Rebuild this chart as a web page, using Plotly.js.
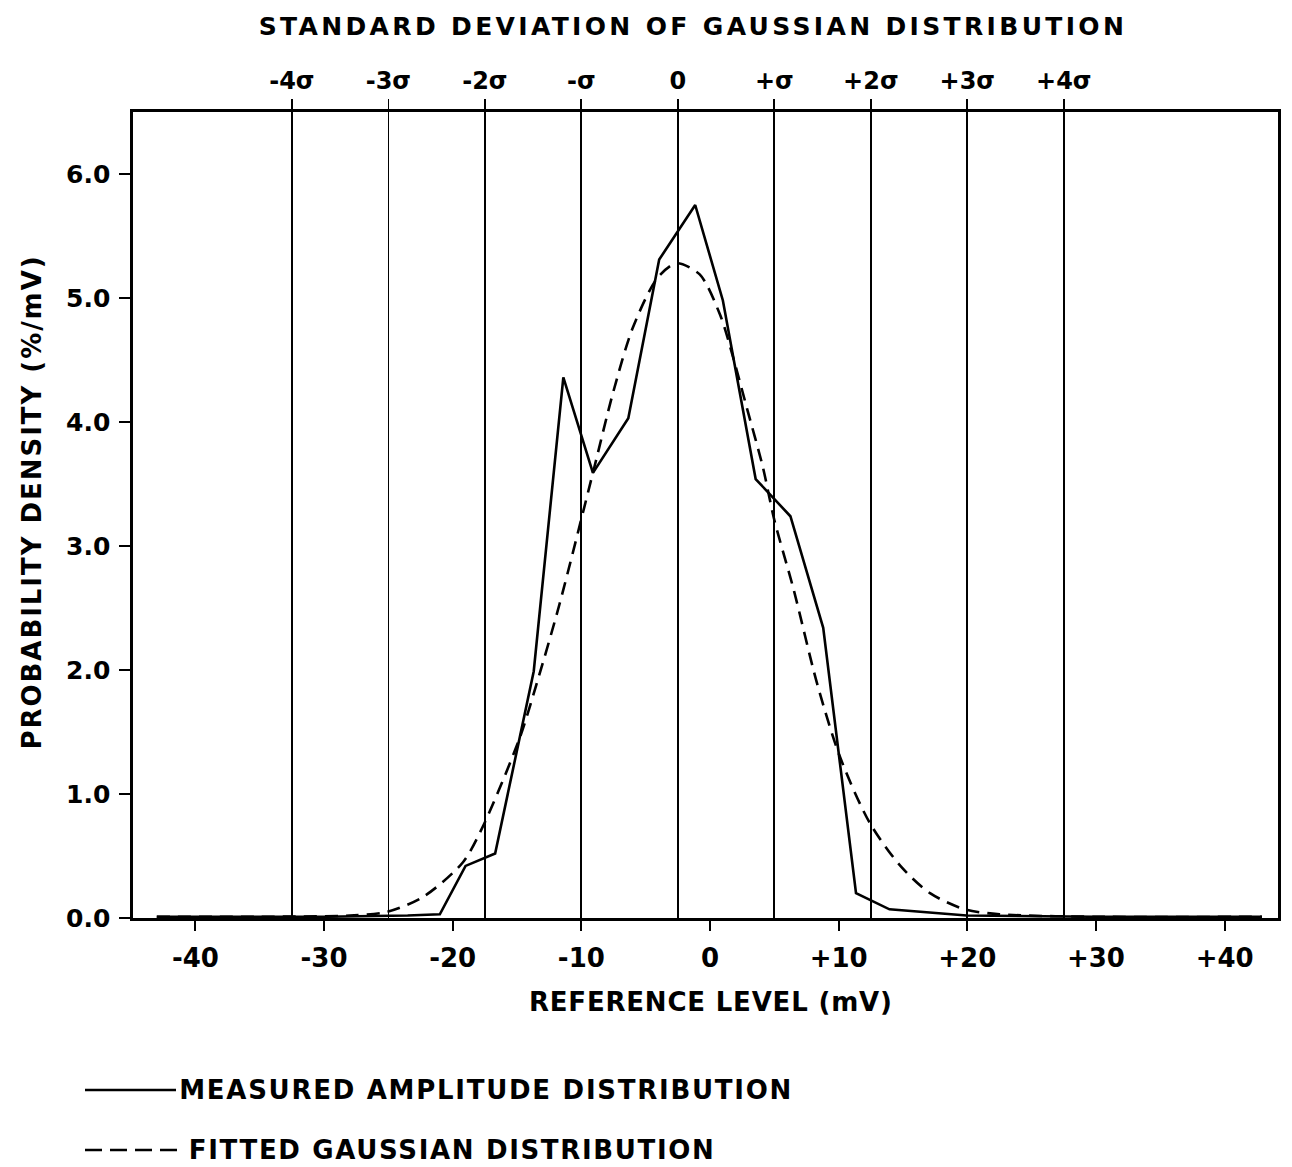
<!DOCTYPE html>
<html>
<head>
<meta charset="utf-8">
<script src="https://cdn.plot.ly/plotly-3.0.1.min.js"></script>
<style>
  html, body { margin: 0; padding: 0; background: #fff; }
  #chart { width: 1292px; height: 1167px; }
</style>
</head>
<body>
<div id="chart"></div>
<script>
// Measured amplitude distribution (reference level in mV, probability density in %/mV)
const measuredX = [-43.0, -30.0, -23.5, -21.0, -19.0, -16.7, -13.7, -11.4, -9.1, -6.35, -3.95, -1.15, 1.0, 3.55, 6.25, 8.8, 11.35, 13.95, 19.95, 30.0, 42.9];
const measuredY = [0.01, 0.01, 0.02, 0.03, 0.42, 0.52, 1.99, 4.36, 3.59, 4.03, 5.31, 5.75, 4.98, 3.54, 3.24, 2.34, 0.20, 0.07, 0.02, 0.01, 0.01];

// Fitted Gaussian distribution
const fittedX = [-43.0, -35.0, -28.0, -25.1, -22.3, -19.2, -17.6, -14.8, -13.5, -11.7, -9.1, -7.5, -6.0, -4.1, -2.6, -0.8, 0.8, 1.8, 2.9, 4.1, 5.0, 6.5, 8.3, 10.1, 12.4, 14.8, 17.1, 19.8, 22.5, 30.0, 42.9];
const fittedY = [0.01, 0.01, 0.02, 0.05, 0.17, 0.45, 0.75, 1.45, 1.88, 2.53, 3.59, 4.25, 4.76, 5.16, 5.28, 5.19, 4.86, 4.52, 4.10, 3.64, 3.21, 2.65, 1.90, 1.30, 0.77, 0.42, 0.20, 0.07, 0.03, 0.01, 0.01];

// Standard-deviation markers of the fitted Gaussian (mean -2.5 mV, sigma 7.5 mV)
const sigmaPos = [-32.5, -25.0, -17.5, -10.0, -2.5, 5.0, 12.5, 20.0, 27.5];
const sigmaLabels = ['-4σ', '-3σ', '-2σ', '-σ', '0', '+σ', '+2σ', '+3σ', '+4σ'];

// Axis ticks
const xTickVals = [-40, -30, -20, -10, 0, 10, 20, 30, 40];
const xTickText = ['-40', '-30', '-20', '-10', '0', '+10', '+20', '+30', '+40'];
const yTickVals = [0, 1, 2, 3, 4, 5, 6];
const yTickText = ['0.0', '1.0', '2.0', '3.0', '4.0', '5.0', '6.0'];

const xRange = [-44.85, 44.15];
const yRange = [0, 6.5];

const sansBold = 'DejaVu Sans, Lato, sans-serif';
const xTickFont = { family: sansBold, size: 26, color: '#000', weight: 700 };
const yTickFont = { family: sansBold, size: 25, color: '#000', weight: 700 };
const sigmaFont = { family: sansBold, size: 24, color: '#000', weight: 700 };
const headFont = { family: sansBold, size: 25, color: '#000', weight: 700 };
const labelFont = { family: sansBold, size: 26, color: '#000', weight: 700 };

// pixel -> paper helpers for the plot box (133..1278 x 112..918)
const px = v => (v - 133) / 1145;
const py = v => (918 - v) / 806;

const traces = [
  {
    x: measuredX, y: measuredY, type: 'scatter', mode: 'lines',
    line: { color: '#000', width: 2.6 },
    name: 'MEASURED AMPLITUDE DISTRIBUTION', showlegend: false, hoverinfo: 'x+y'
  },
  {
    x: fittedX, y: fittedY, type: 'scatter', mode: 'lines', xaxis: 'x2',
    line: { color: '#000', width: 2.6, dash: '13px,8px', shape: 'spline', smoothing: 0.8 },
    name: 'FITTED GAUSSIAN DISTRIBUTION', showlegend: false, hoverinfo: 'x+y'
  }
];

const layout = {
  width: 1292, height: 1167,
  margin: { l: 133, r: 14, t: 112, b: 249 },
  paper_bgcolor: '#fff', plot_bgcolor: '#fff',
  showlegend: false,
  title: {
    text: 'STANDARD DEVIATION OF GAUSSIAN DISTRIBUTION',
    font: headFont,
    x: 693 / 1292, xanchor: 'center', xref: 'container',
    y: 1 - 26 / 1167, yanchor: 'middle', yref: 'container'
  },
  xaxis: {
    range: xRange, fixedrange: true,
    tickmode: 'array', tickvals: xTickVals, ticktext: xTickText,
    ticks: 'outside', ticklen: 10, tickwidth: 2, tickcolor: '#000',
    tickfont: xTickFont, ticklabelstandoff: 5,
    showgrid: false, zeroline: false,
    showline: true, linecolor: '#000', linewidth: 2.6, mirror: true
  },
  xaxis2: {
    overlaying: 'x', side: 'top', anchor: 'y',
    range: xRange, fixedrange: true,
    tickmode: 'array', tickvals: sigmaPos, ticktext: sigmaLabels,
    ticks: 'outside', ticklen: 12, tickwidth: 1.7, tickcolor: '#000',
    tickfont: sigmaFont,
    showgrid: true, gridcolor: '#000', gridwidth: 1.7,
    zeroline: false, showline: false
  },
  yaxis: {
    range: yRange, fixedrange: true,
    tickmode: 'array', tickvals: yTickVals, ticktext: yTickText,
    ticks: 'outside', ticklen: 11, tickwidth: 2, tickcolor: '#000',
    tickfont: yTickFont, ticklabelstandoff: 4,
    showgrid: false, zeroline: false,
    showline: true, linecolor: '#000', linewidth: 2.6, mirror: true
  },
  annotations: [
    {
      text: 'REFERENCE LEVEL (mV)', xref: 'paper', yref: 'paper',
      x: px(711), y: py(1002),
      xanchor: 'center', yanchor: 'middle', showarrow: false, font: labelFont
    },
    {
      text: 'PROBABILITY DENSITY (%/mV)', xref: 'paper', yref: 'paper',
      x: px(32), y: py(502), textangle: -90,
      xanchor: 'center', yanchor: 'middle', showarrow: false, font: labelFont
    },
    {
      text: 'MEASURED AMPLITUDE DISTRIBUTION', xref: 'paper', yref: 'paper',
      x: px(486), y: py(1090),
      xanchor: 'center', yanchor: 'middle', showarrow: false, font: labelFont
    },
    {
      text: 'FITTED GAUSSIAN DISTRIBUTION', xref: 'paper', yref: 'paper',
      x: px(452), y: py(1150),
      xanchor: 'center', yanchor: 'middle', showarrow: false, font: labelFont
    }
  ],
  shapes: [
    // legend keys
    {
      type: 'line', xref: 'paper', yref: 'paper',
      x0: px(85), x1: px(176), y0: py(1090), y1: py(1090),
      line: { color: '#000', width: 2.4 }
    },
    {
      type: 'line', xref: 'paper', yref: 'paper',
      x0: px(85), x1: px(177), y0: py(1150), y1: py(1150),
      line: { color: '#000', width: 2.4, dash: '17px,8px' }
    }
  ]
};

// Spread the lettering of the titles to their set widths
const textWidths = [865, 363, 493, 612, 525];

Plotly.newPlot('chart', traces, layout, { staticPlot: true, displayModeBar: false }).then(gd => {
  const els = [gd.querySelector('.gtitle')].concat(Array.from(gd.querySelectorAll('.annotation-text')));
  els.forEach((el, i) => {
    if (!el) return;
    const n = el.textContent.length;
    const w = el.getComputedTextLength();
    const ls = Math.max(0, (textWidths[i] - w) / (n - 1));
    el.style.letterSpacing = ls.toFixed(2) + 'px';
  });
});
</script>
</body>
</html>
